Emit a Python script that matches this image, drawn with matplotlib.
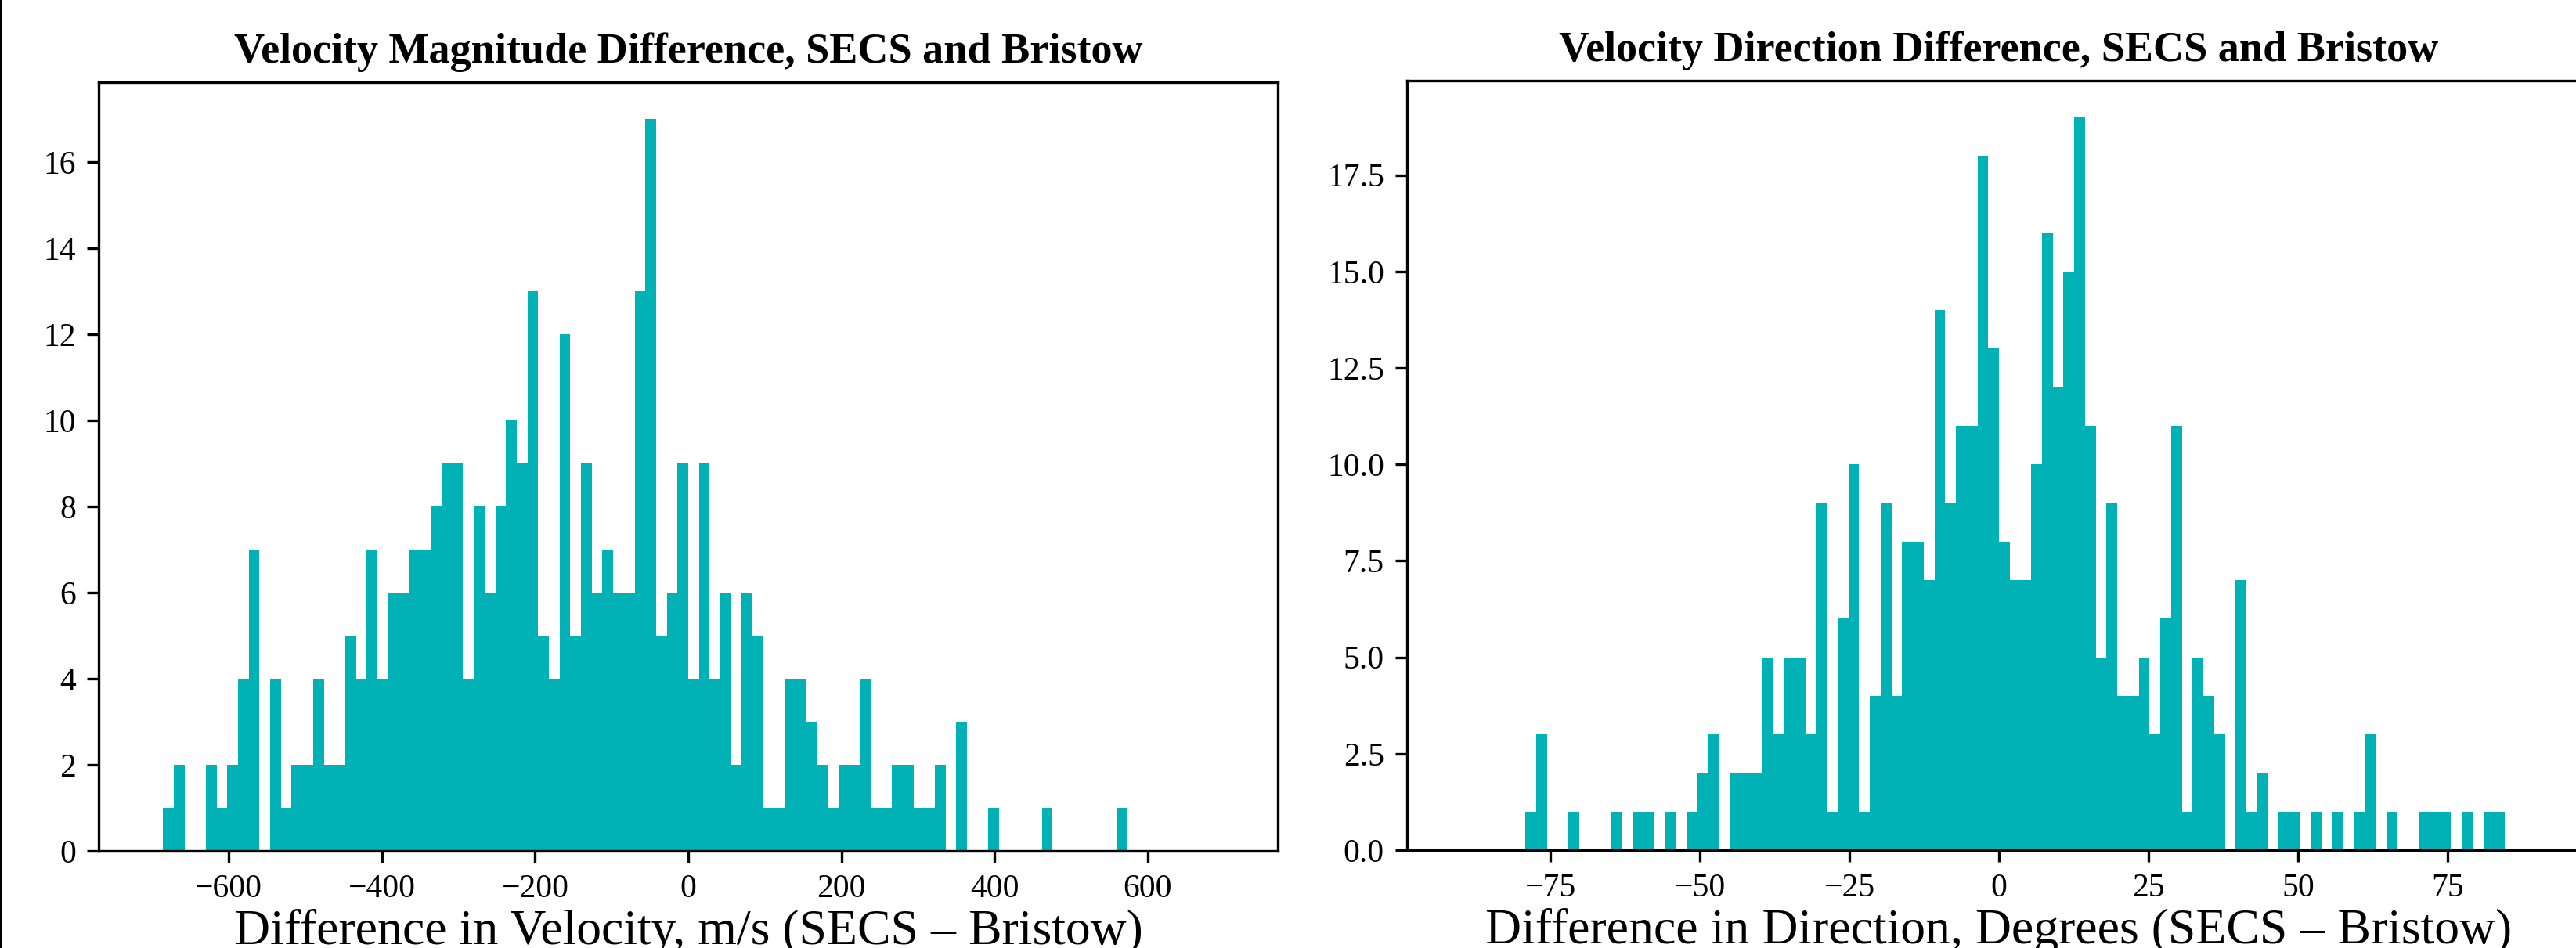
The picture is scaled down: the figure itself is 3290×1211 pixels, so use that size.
import numpy as np
import matplotlib
matplotlib.use('Agg')
import matplotlib.pyplot as plt
from matplotlib.patches import Rectangle

# counts per bin (100 bins each)
vel_counts = [0, 1, 2, 0, 0, 2, 1, 2, 4, 7,
              0, 4, 1, 2, 2, 4, 2, 2, 5, 4,
              7, 4, 6, 6, 7, 7, 8, 9, 9, 4,
              8, 6, 8, 10, 9, 13, 5, 4, 12, 5,
              9, 6, 7, 6, 6, 13, 17, 5, 6, 9,
              4, 9, 4, 6, 2, 6, 5, 1, 1, 4,
              4, 3, 2, 1, 2, 2, 4, 1, 1, 2,
              2, 1, 1, 2, 0, 3, 0, 0, 1, 0,
              0, 0, 0, 1, 0, 0, 0, 0, 0, 0,
              1, 0, 0, 0, 0, 0, 0, 0, 0, 0]
dir_counts = [0, 0, 0, 0, 0, 0, 1, 3, 0, 0,
              1, 0, 0, 0, 1, 0, 1, 1, 0, 1,
              0, 1, 2, 3, 0, 2, 2, 2, 5, 3,
              5, 5, 3, 9, 1, 6, 10, 1, 4, 9,
              4, 8, 8, 7, 14, 9, 11, 11, 18, 13,
              8, 7, 7, 10, 16, 12, 15, 19, 11, 5,
              9, 4, 4, 5, 3, 6, 11, 1, 5, 4,
              3, 0, 7, 1, 2, 0, 1, 1, 0, 1,
              0, 1, 0, 1, 3, 0, 1, 0, 0, 1,
              1, 1, 0, 1, 0, 1, 1, 0, 0, 0]
vel_range = (-700, 700)
dir_range = (-90, 90)

titles = ['Velocity Magnitude Difference, SECS and Bristow',
          'Velocity Direction Difference, SECS and Bristow']
xlabels = ['Difference in Velocity, m/s (SECS \u2013 Bristow)',
           'Difference in Direction, Degrees (SECS \u2013 Bristow)']

plt.rcParams['font.family'] = 'serif'
plt.rcParams['font.serif'] = ['Liberation Serif', 'DejaVu Serif']
bar_color = '#00b2b6'

W, H = 3290, 1211
fig = plt.figure(figsize=(W / 300, H / 300), dpi=300)

# axes boxes in pixels -> figure fractions (the right panel runs off the edge)
ax1 = fig.add_axes([126 / W, (H - 1087) / H, 1506 / W, 982 / H])
ax2 = fig.add_axes([1797 / W, (H - 1086) / H, 1512 / W, 983 / H])

for ax, counts, rng, title, xlab in zip([ax1, ax2], [vel_counts, dir_counts],
                                        [vel_range, dir_range], titles, xlabels):
    edges = np.linspace(rng[0], rng[1], len(counts) + 1)
    ax.hist(edges[:-1], bins=edges, weights=counts, color=bar_color)
    ax.set_title(title, fontweight='bold', fontsize=13)
    ax.set_xlabel(xlab, fontsize=15.3, labelpad=1.5)

ax1.set_xticks([-600, -400, -200, 0, 200, 400, 600])
ax2.set_xticks([-75, -50, -25, 0, 25, 50, 75])

# dark border line on the left edge of the picture
fig.add_artist(Rectangle((0, 0), 3 / W, 1, transform=fig.transFigure,
                         color='black', lw=0))

fig.savefig('out.png', dpi=300)
